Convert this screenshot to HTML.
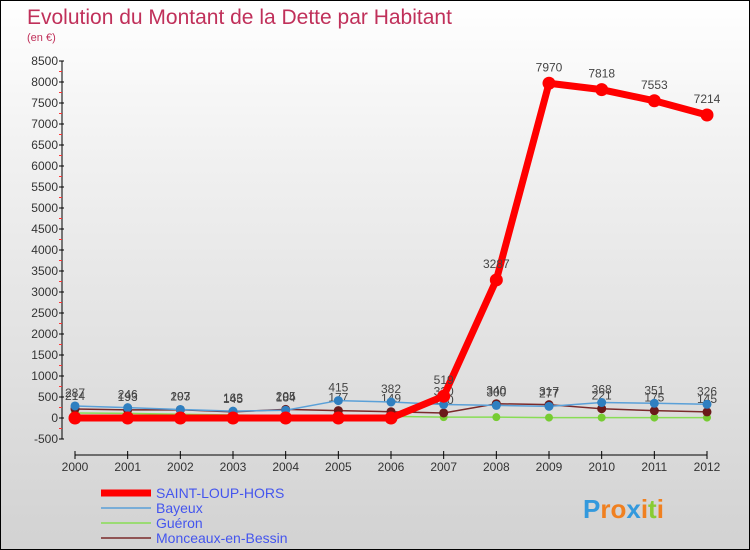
<!DOCTYPE html>
<html><head><meta charset="utf-8"><style>
body{margin:0;width:750px;height:550px;overflow:hidden;font-family:"Liberation Sans",sans-serif}
#wrap{position:relative;width:748px;height:548px;border:1px solid #000;background:linear-gradient(#fff 0%,#f0f0f0 30%,#d2d2d2 100%)}
</style></head><body>
<div id="wrap">
<svg id="chart" width="748" height="548" style="position:absolute;left:0;top:0">
<text x="26" y="23" font-size="21" fill="#c0305a">Evolution du Montant de la Dette par Habitant</text>
<text x="26" y="40" font-size="11" fill="#c0305a">(en €)</text>
</svg>
</div>
<script>
const years=[2000,2001,2002,2003,2004,2005,2006,2007,2008,2009,2010,2011,2012];
const saintLoup=[0,0,0,0,0,0,0,519,3287,7970,7818,7553,7214];
const bayeux=[287,246,203,163,184,415,382,320,300,277,368,351,326];
const gueron=[120,110,90,70,60,50,40,20,20,10,10,10,10];
const monceaux=[214,193,197,145,205,177,149,120,340,317,221,175,145];
const yTicks=[-500,0,500,1000,1500,2000,2500,3000,3500,4000,4500,5000,5500,6000,6500,7000,7500,8000,8500];
const svg=document.getElementById('chart');const NS='http://www.w3.org/2000/svg';
function el(t,a,p){const e=document.createElementNS(NS,t);for(const k in a)e.setAttribute(k,a[k]);(p||svg).appendChild(e);return e;}
const x0=74,x1=706,yZero=417,pxPer=(417-60)/8500;
const X=i=>x0+i*(x1-x0)/(years.length-1);
const Y=v=>yZero-v*pxPer;
let a=el('line',{x1:61,y1:Y(8500),x2:61,y2:Y(-500),stroke:'#000'});


yTicks.forEach(v=>{
 el('line',{x1:58,x2:63,y1:Y(v),y2:Y(v),stroke:'#000'});
 if(v<8500){el('line',{x1:58,x2:61,y1:Y(v+250),y2:Y(v+250),stroke:'#f33'});}
 const t=el('text',{x:57,y:Y(v)+4,'font-size':12,'text-anchor':'end',fill:'#333'});
 t.textContent=v;
 
 
});
const xa=el('line',{x1:x0,y1:454,x2:x1,y2:454,stroke:'#000'});


years.forEach((y,i)=>{
 el('line',{x1:X(i),x2:X(i),y1:450,y2:458,stroke:'#000'});
 const t=el('text',{x:X(i),y:470,'font-size':12,'text-anchor':'middle',fill:'#333'});
 t.textContent=y;
 
 
});
function series(vals,color,w,r,name,labels,dotColor){
 const g=el('g',{});
 
 
 el('polyline',{points:vals.map((v,i)=>X(i)+','+Y(v)).join(' '),fill:'none',stroke:color,'stroke-width':w,'stroke-linejoin':'round'},g);
 vals.forEach((v,i)=>{
  const c=el('circle',{cx:X(i),cy:Y(v),r:r,fill:dotColor||color},g);
  
  
  if(labels){const t=el('text',{x:X(i),y:Y(v)-9,'font-size':12,'text-anchor':'middle',fill:'#444'},g);t.textContent=v;}
 });
}
series(gueron,'#88dd55',1.5,4,'gueron-series',false,'#77cc33');
series(monceaux,'#7a2a2a',1.5,4.5,'monceaux-series',true,'#6b1a1a');
series(bayeux,'#5aa0d8',1.5,4.5,'bayeux-series',true,'#2f7fc0');
series(saintLoup,'#ff0000',7,6.5,'saint-loup-series',false);
saintLoup.forEach((v,i)=>{if(i>=7){const t=el('text',{x:X(i),y:Y(v)-12,'font-size':12,'text-anchor':'middle',fill:'#444'});t.textContent=v;}});
const leg=[['SAINT-LOUP-HORS','#ff0000',7],['Bayeux','#5aa0d8',1.5],['Guéron','#88dd55',1.5],['Monceaux-en-Bessin','#7a2a2a',1.5]];
leg.forEach((l,i)=>{const y=492+i*15;
 const g=el('g',{});
 
 
 el('line',{x1:100,x2:150,y1:y,y2:y,stroke:l[1],'stroke-width':l[2]},g);
 const t=el('text',{x:155,y:y+5,'font-size':14,fill:'#4455ee'},g);t.textContent=l[0];
});
const lg=el('text',{x:582,y:517,'font-size':26,'font-weight':'bold',fill:'#f08020'});


lg.innerHTML='<tspan fill="#3399dd">P</tspan>ro<tspan fill="#3399dd">x</tspan>i<tspan fill="#88cc33">t</tspan>i';
</script>
</body></html>
